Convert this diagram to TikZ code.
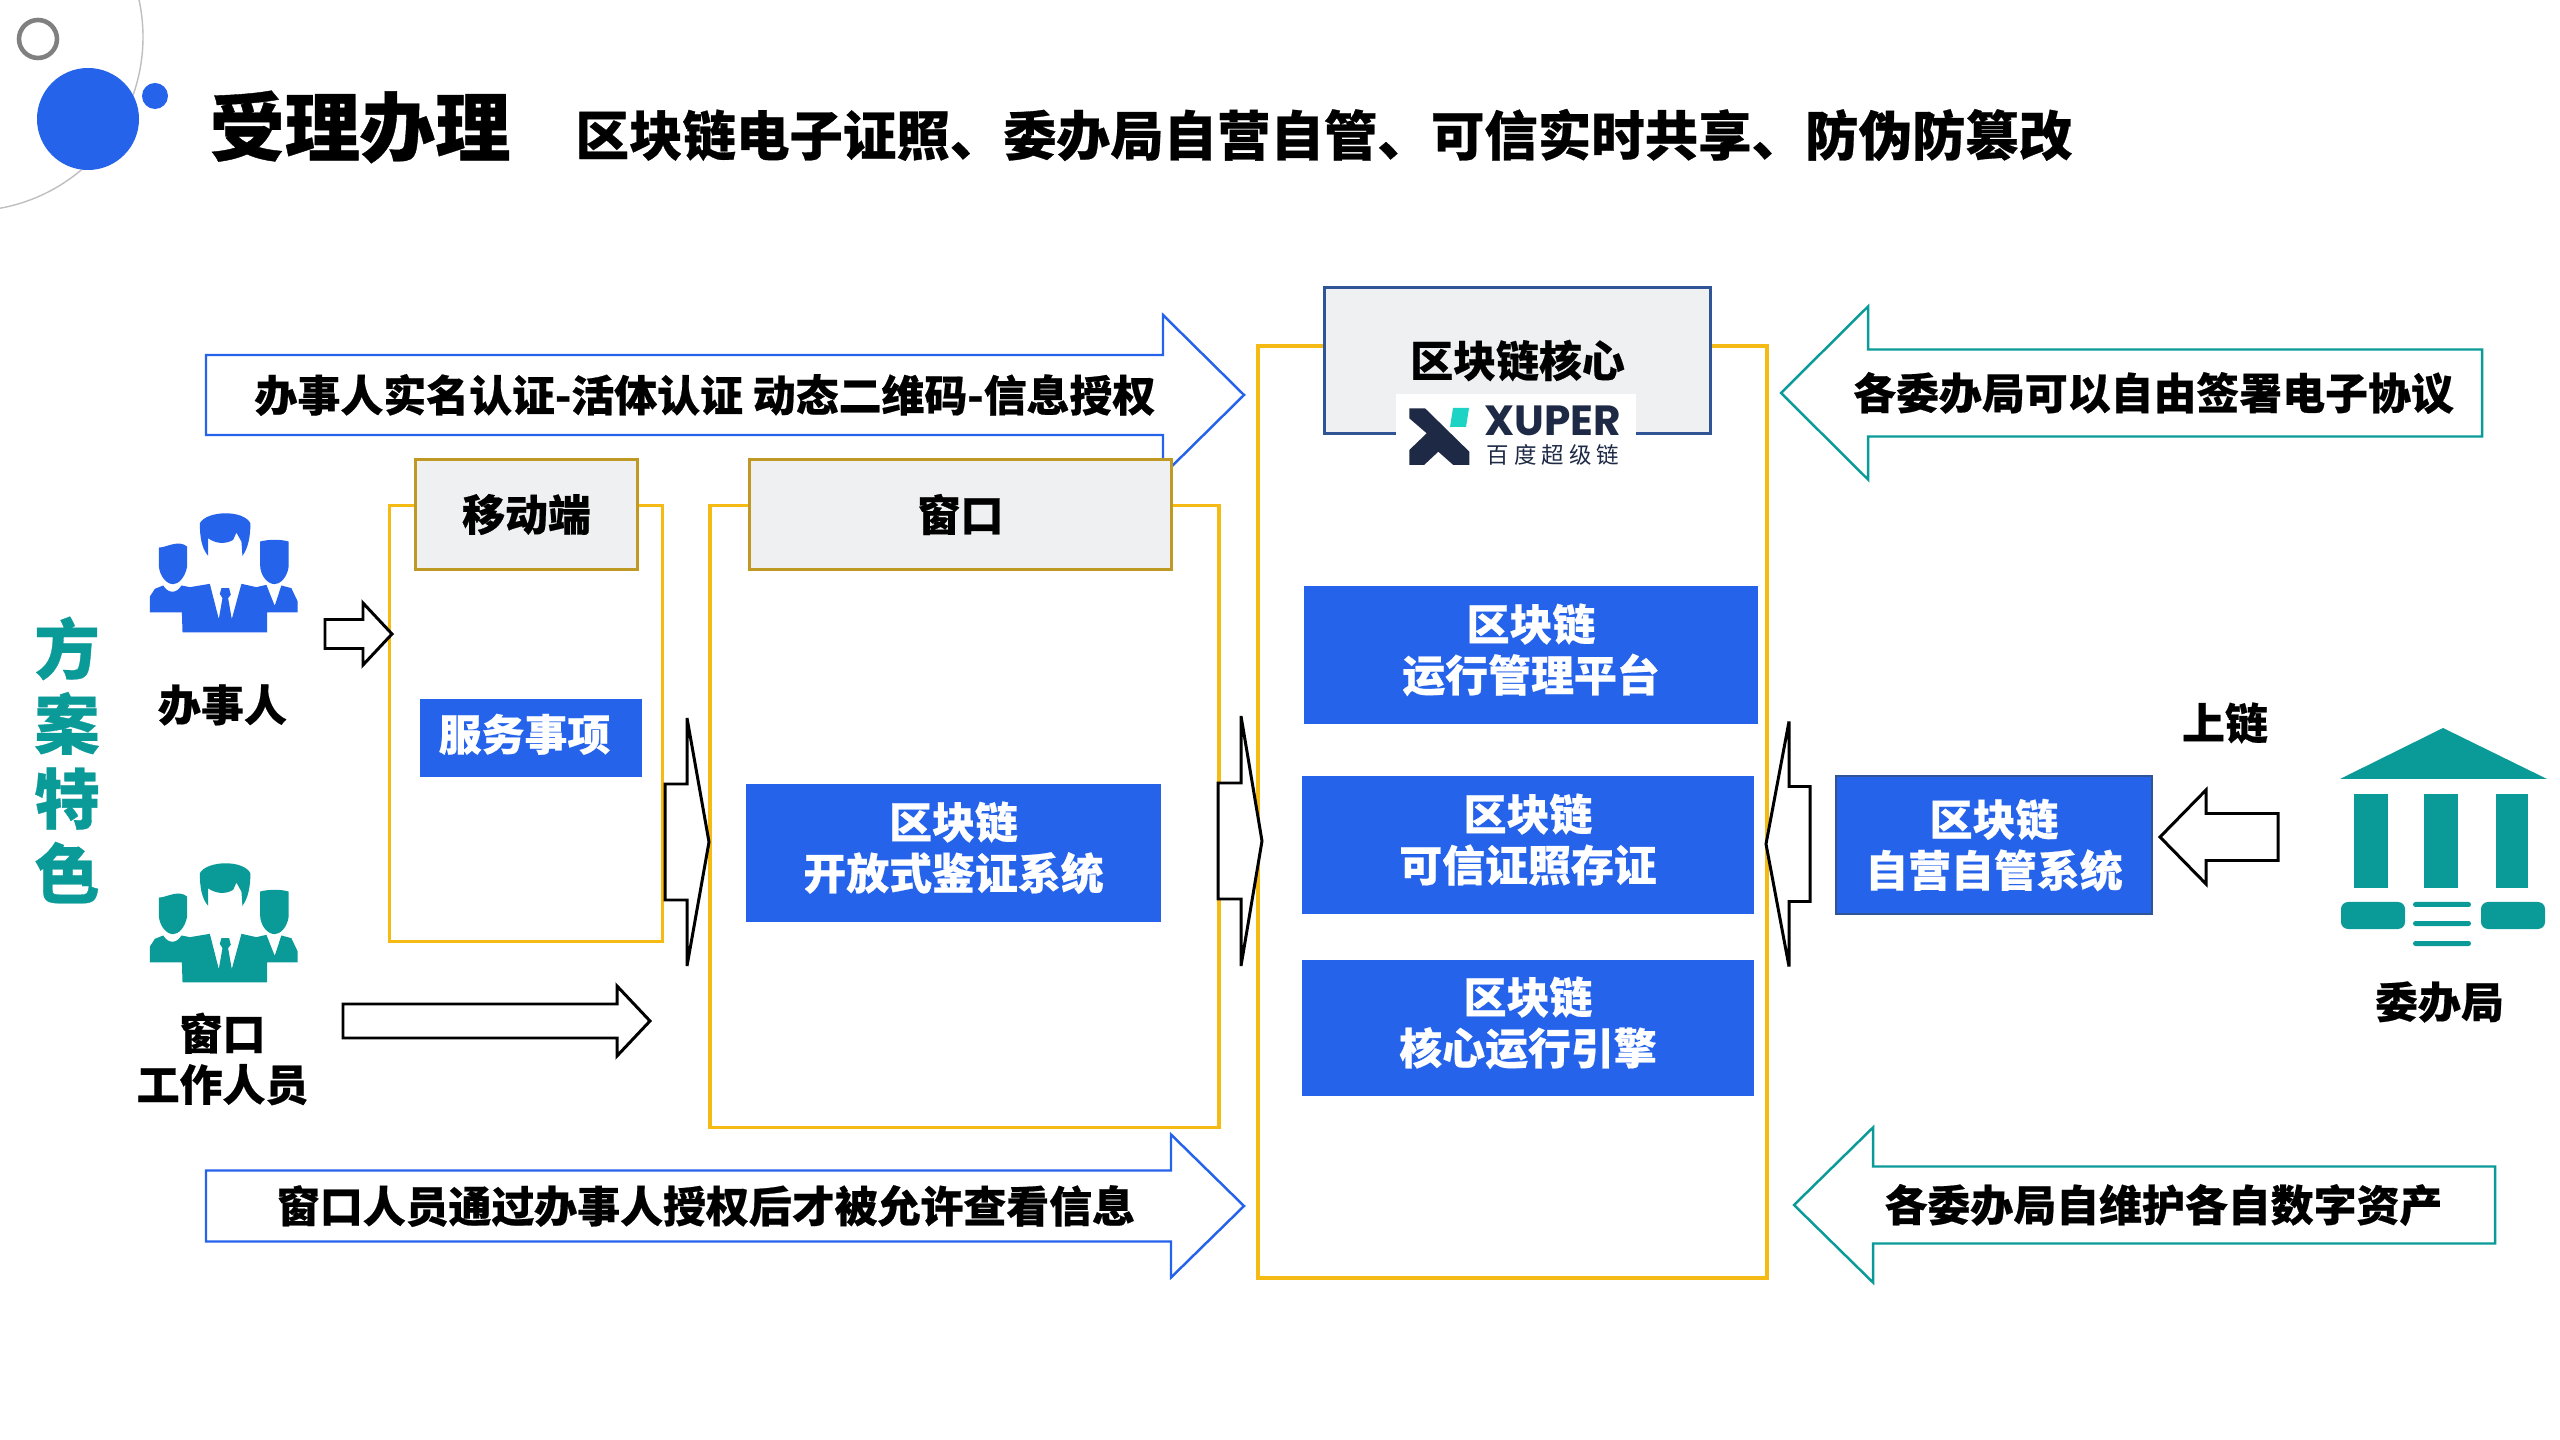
\documentclass[tikz,border=0pt]{standalone}
\usepackage{fontspec}
\usepackage{tikz}
\setmainfont{Noto Sans CJK SC}[BoldFeatures={FakeBold=0.5}]
\newfontfamily\logofont{Poppins}
\newfontfamily\logocjk{Noto Sans CJK SC}[LetterSpace=22]
\definecolor{ink}{RGB}{0,0,0}
\definecolor{chainblue}{RGB}{37,99,235}
\definecolor{chainteal}{RGB}{10,154,152}
\definecolor{framegold}{RGB}{245,186,20}
\definecolor{tabgold}{RGB}{192,152,36}
\definecolor{corenavy}{RGB}{47,85,151}
\definecolor{tabfill}{RGB}{239,240,241}
\definecolor{logoink}{RGB}{30,42,69}
\definecolor{logocyan}{RGB}{29,211,196}
\tikzset{
    line join=miter,
    framebox/.style={
        rectangle,
        draw=framegold,
        line width=1pt,
        inner sep=0pt
    },
    tabbox/.style={
        rectangle,
        draw=tabgold,
        line width=0.85pt,
        fill=tabfill,
        inner sep=0pt,
        font=\fontsize{12.2}{14.5}\selectfont\bfseries
    },
    corebox/.style={
        tabbox,
        draw=corenavy
    },
    bluebox/.style={
        rectangle,
        fill=chainblue,
        inner sep=0pt,
        align=center,
        text=white,
        font=\fontsize{12.2}{14.5}\selectfont\bfseries
    },
    raisedbox/.style={
        bluebox,
        text depth=4.3pt
    },
    selfbox/.style={
        bluebox,
        draw=corenavy,
        line width=0.75pt
    },
    caption/.style={
        inner sep=0pt,
        align=center,
        text=ink,
        font=\fontsize{12.2}{14.5}\selectfont\bfseries
    },
    pagetitle/.style={
        caption,
        font=\fontsize{21.4}{24}\selectfont\bfseries
    },
    subtitle/.style={
        caption,
        font=\fontsize{15.2}{18}\selectfont\bfseries
    },
    sidetitle/.style={
        caption,
        text=chainteal,
        font=\fontsize{18.6}{21.3}\selectfont\bfseries
    },
    blockarrow/.style={
        draw=ink,
        fill=white,
        line width=0.85pt
    },
    notearrow/.style={
        fill=white,
        line width=0.7pt
    },
    pics/staff/.style={
        code={
            \begin{scope}[x=0.00333cm, y=-0.00333cm]
                % centre hair
                \fill[#1] (300,130) .. controls (320,92) and (430,88) .. (452,130)
                    .. controls (452,170) and (445,205) .. (428,228)
                    -- (425,185) -- (410,158) -- (400,180)
                    .. controls (375,195) and (345,190) .. (325,175)
                    -- (325,228) .. controls (305,205) and (300,170) .. (300,130) -- cycle;
                % side heads
                \fill[#1] (177,203) .. controls (200,203) and (235,178) .. (262,200)
                    -- (262,260) .. controls (255,295) and (235,313) .. (220,313)
                    .. controls (200,313) and (180,290) .. (177,260) -- cycle;
                \fill[#1] (481,185) .. controls (505,178) and (545,178) .. (567,185)
                    -- (567,260) .. controls (562,295) and (540,313) .. (525,313)
                    .. controls (505,313) and (482,290) .. (481,255) -- cycle;
                % shoulders and tie
                \fill[#1] (150,398) -- (150,350) -- (165,327) -- (190,317)
                    .. controls (205,342) and (230,342) .. (245,317) -- (270,322)
                    -- (330,312) -- (357,418) -- (368,355) -- (385,355) -- (396,418)
                    -- (425,312) -- (470,322) -- (500,315) -- (525,378) -- (545,317)
                    -- (575,325) -- (594,365) -- (594,398) -- (502,398) -- (502,458)
                    -- (248,458) -- (246,398) -- cycle;
                \fill[#1] (365,325) -- (388,325) -- (393,345) -- (385,355)
                    -- (368,355) -- (360,342) -- cycle;
            \end{scope}
        }
    }
}

\begin{document}
\begin{tikzpicture}[x=0.01cm, y=-0.01cm]

\fill[white] (0, 0) rectangle (2560, 1440);
\useasboundingbox (0, 0) rectangle (2560, 1440);

% corner circles
\draw[black!25, line width=0.4pt] (-31, 37) circle[radius=174];
\draw[black!50, line width=1.3pt] (38, 39) circle[radius=19];
\fill[chainblue] (88, 119) circle[radius=51];
\fill[chainblue] (155, 96) circle[radius=13];

\node[pagetitle] (title) at (360, 127) {受理办理};
\node[subtitle] (subtitle) at (1324, 135) {区块链电子证照、委办局自营自管、可信实时共享、防伪防篡改};
\node[sidetitle] (feature) at (67, 760) {方\\案\\特\\色};

% outlined arrows carrying the notes
\foreach \tail/\neck/\tipx/\tipy/\halfbody/\halfhead/\col in {
    206/1163/1244/395/40/80/chainblue,
    206/1171/1244/1206/35.5/71.5/chainblue,
    2482/1868/1781/393/43.5/86.5/chainteal,
    2495/1873/1794/1205/38.5/77.5/chainteal%
} {
    \draw[notearrow, draw=\col] (\tail, \tipy - \halfbody) -- (\neck, \tipy - \halfbody)
        -- (\neck, \tipy - \halfhead) -- (\tipx, \tipy) -- (\neck, \tipy + \halfhead)
        -- (\neck, \tipy + \halfbody) -- (\tail, \tipy + \halfbody) -- cycle;
}
\node[caption] (noteauth) at (705, 395) {办事人实名认证-活体认证 动态二维码-信息授权};
\node[caption] (noteview) at (706, 1206) {窗口人员通过办事人授权后才被允许查看信息};
\node[caption] (notesign) at (2153.5, 393) {各委办局可以自由签署电子协议};
\node[caption] (noteasset) at (2163.5, 1205) {各委办局自维护各自数字资产};

% yellow frames
\node[framebox, minimum width=2.73cm, minimum height=4.36cm] (mobileframe) at (526, 723.5) {};
\node[framebox, minimum width=5.09cm, minimum height=6.22cm] (windowframe) at (964.5, 816.5) {};
\node[framebox, minimum width=5.09cm, minimum height=9.31cm] (coreframe) at (1512.5, 812) {};

% title tabs
\node[tabbox, minimum width=2.22cm, minimum height=1.1cm] (mobiletab) at (526.5, 514.5) {移动端};
\node[tabbox, minimum width=4.21cm, minimum height=1.1cm] (windowtab) at (960.5, 514.5) {窗口};
\node[corebox, minimum width=3.85cm, minimum height=1.45cm] (coretab) at (1517.5, 360.5) {区块链核心};

% XUPER mark
\fill[white] (1396, 394) rectangle (1636, 477);
\fill[logoink] (1409.3, 408.3) -- (1425, 408.3) -- (1469.3, 451.7) -- (1469.3, 465)
    -- (1453.3, 465) -- (1438.3, 451.7) -- (1424, 465) -- (1409.3, 465)
    -- (1409.3, 450) -- (1426.7, 433.3) -- (1409.3, 418.3) -- cycle;
\fill[logocyan] (1453, 408) -- (1469, 408) -- (1466, 427) -- (1450, 427) -- cycle;
\node[inner sep=0pt, anchor=base, text height=7.5pt, text depth=0pt, text=logoink, font=\logofont\fontsize{12}{12}\selectfont\bfseries] (xuper) at (1553, 436) {XUPER};
\node[inner sep=0pt, anchor=base, text height=5pt, text depth=0pt, text=logoink, font=\logocjk\fontsize{6.4}{7}\selectfont] (xuperzh) at (1553, 464) {百度超级链};

% blue boxes
\node[bluebox, text depth=3.3pt, minimum width=2.22cm, minimum height=0.78cm] (service) at (531, 738) {服务事项\hspace{3.7pt}};
\node[raisedbox, minimum width=4.15cm, minimum height=1.38cm] (verify) at (953.5, 853) {区块链\\开放式鉴证系统};
\node[raisedbox, minimum width=4.54cm, minimum height=1.38cm] (platform) at (1531, 655) {区块链\\运行管理平台};
\node[raisedbox, minimum width=4.52cm, minimum height=1.38cm] (deposit) at (1528, 845) {区块链\\可信证照存证};
\node[raisedbox, minimum width=4.52cm, minimum height=1.36cm] (engine) at (1528, 1028) {区块链\\核心运行引擎};
\node[selfbox, minimum width=3.16cm, minimum height=1.38cm] (selfrun) at (1994, 845) {区块链\\自营自管系统};

% black block arrows
\foreach \tail/\neck/\tipx/\tipy/\halfbody/\halfhead in {
    325/363/392/634/14.5/31,
    343/617/650/1021/17/35,
    665/687/709/842/58/124,
    1218/1241/1262/841/58/125,
    1810/1789/1766/844/57.5/122.5,
    2278/2206/2160/837/23.5/47%
} {
    \draw[blockarrow] (\tail, \tipy - \halfbody) -- (\neck, \tipy - \halfbody)
        -- (\neck, \tipy - \halfhead) -- (\tipx, \tipy) -- (\neck, \tipy + \halfhead)
        -- (\neck, \tipy + \halfbody) -- (\tail, \tipy + \halfbody) -- cycle;
}

% people on the left
\pic at (100, 480) {staff=chainblue};
\pic at (100, 830) {staff=chainteal};
\node[caption] (applicant) at (222.5, 705) {办事人};
\node[caption] (clerk) at (222.5, 1059) {窗口\\工作人员};

% bureau building
\fill[chainteal] (2340, 779) -- (2443, 728) -- (2547, 779) -- cycle;
\foreach \xa/\xb in {2354/2388, 2424/2458, 2496/2528} {
    \fill[chainteal] (\xa, 794) rectangle (\xb, 888);
}
\fill[chainteal, rounded corners=2pt] (2341, 902) rectangle (2405, 929);
\fill[chainteal, rounded corners=2pt] (2481, 902) rectangle (2545, 929);
\foreach \y in {902, 921, 941} {
    \fill[chainteal, rounded corners=0.7pt] (2413, \y) rectangle (2471, \y + 5);
}
\node[caption] (uplink) at (2225, 723) {上链};
\node[caption] (bureau) at (2439.5, 1002) {委办局};

\end{tikzpicture}
\end{document}
